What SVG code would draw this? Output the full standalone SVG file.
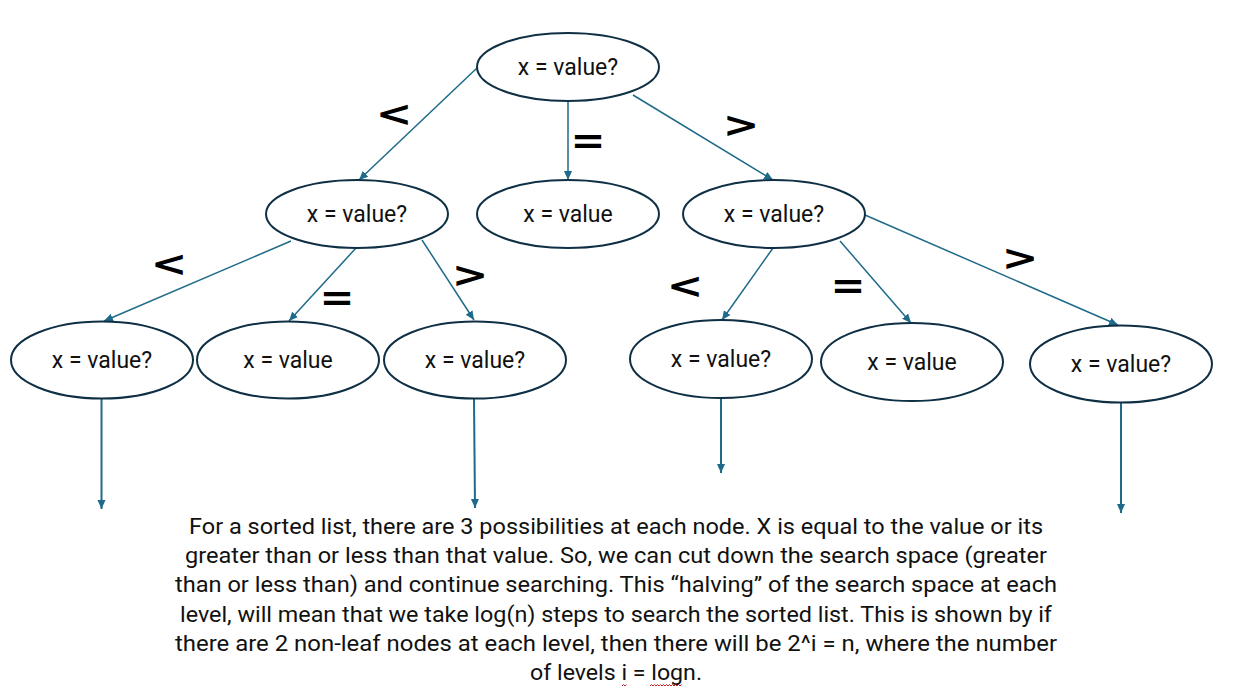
<svg xmlns="http://www.w3.org/2000/svg" width="1253" height="697" viewBox="0 0 1253 697">
<style>
.node ellipse{fill:#ffffff;stroke:#0e2f44;stroke-width:2}
.node text{font-family:Roboto,"Liberation Sans",sans-serif;font-size:23px;fill:#111;text-anchor:middle}
.conn line{stroke:#1e6a8a;stroke-width:1.5;fill:none}
.conn line.down{stroke-width:2}
.lbl{font-family:"DejaVu Sans",sans-serif;font-size:38px;fill:#000;text-anchor:middle;font-weight:bold}
.body{font-family:Roboto,"Liberation Sans",sans-serif;font-size:22px;fill:#111;text-anchor:middle}
.squig{stroke:#d02020;stroke-width:1;fill:none}
</style>
<defs>
<marker id="ah" markerUnits="userSpaceOnUse" markerWidth="10" markerHeight="10" viewBox="0 0 10 10" refX="9" refY="5" orient="auto">
<path d="M0,1 L9,5 L0,9 z" fill="#1e6a8a"/>
</marker>
</defs>
<rect width="1253" height="697" fill="#ffffff"/>
<g id="connectors" class="conn">
<line x1="477" y1="68" x2="359" y2="180" marker-end="url(#ah)"/>
<line x1="568" y1="101" x2="568" y2="180" marker-end="url(#ah)"/>
<line x1="633" y1="95" x2="773" y2="180" marker-end="url(#ah)"/>
<line x1="291" y1="241" x2="104" y2="321" marker-end="url(#ah)"/>
<line x1="356" y1="248" x2="289" y2="321" marker-end="url(#ah)"/>
<line x1="422" y1="240" x2="474" y2="320" marker-end="url(#ah)"/>
<line x1="773" y1="248" x2="722" y2="320" marker-end="url(#ah)"/>
<line x1="840" y1="241" x2="911" y2="323" marker-end="url(#ah)"/>
<line x1="865" y1="215" x2="1118" y2="325" marker-end="url(#ah)"/>
<line class="down" x1="101.5" y1="398" x2="101.5" y2="509" marker-end="url(#ah)"/>
<line class="down" x1="474" y1="399" x2="475" y2="508" marker-end="url(#ah)"/>
<line class="down" x1="721" y1="398" x2="721" y2="473" marker-end="url(#ah)"/>
<line class="down" x1="1121" y1="402" x2="1121" y2="513" marker-end="url(#ah)"/>
</g>
<g id="edge-labels">
<text class="lbl" transform="translate(394,126) scale(1.15,0.92)">&lt;</text>
<text class="lbl" transform="translate(588,153) scale(1.1,1)">=</text>
<text class="lbl" transform="translate(741,137) scale(1.15,0.92)">&gt;</text>
<text class="lbl" transform="translate(169,276) scale(1.15,0.92)">&lt;</text>
<text class="lbl" transform="translate(337,310) scale(1.1,1)">=</text>
<text class="lbl" transform="translate(470,287) scale(1.15,0.92)">&gt;</text>
<text class="lbl" transform="translate(685,298) scale(1.15,0.92)">&lt;</text>
<text class="lbl" transform="translate(848,298) scale(1.1,1)">=</text>
<text class="lbl" transform="translate(1020,270) scale(1.15,0.92)">&gt;</text>
</g>
<g id="n0" class="node"><ellipse cx="568" cy="67" rx="91" ry="34"/><text x="568" y="75">x = value?</text></g>
<g id="n1" class="node"><ellipse cx="357" cy="214" rx="91" ry="34"/><text x="357" y="222">x = value?</text></g>
<g id="n2" class="node"><ellipse cx="568" cy="214" rx="91" ry="34"/><text x="568" y="222">x = value</text></g>
<g id="n3" class="node"><ellipse cx="774" cy="214" rx="91" ry="34"/><text x="774" y="222">x = value?</text></g>
<g id="n4" class="node"><ellipse cx="102" cy="360" rx="91" ry="38.5"/><text x="102" y="368">x = value?</text></g>
<g id="n5" class="node"><ellipse cx="288" cy="360" rx="91" ry="38.5"/><text x="288" y="368">x = value</text></g>
<g id="n6" class="node"><ellipse cx="475" cy="360" rx="91" ry="38.5"/><text x="475" y="368">x = value?</text></g>
<g id="n7" class="node"><ellipse cx="721" cy="359" rx="91" ry="39"/><text x="721" y="367">x = value?</text></g>
<g id="n8" class="node"><ellipse cx="912" cy="362" rx="91" ry="39"/><text x="912" y="370">x = value</text></g>
<g id="n9" class="node"><ellipse cx="1121" cy="364" rx="91" ry="38.5"/><text x="1121" y="372">x = value?</text></g>
<g id="caption">
<text class="body" x="616" y="534" textLength="854" lengthAdjust="spacingAndGlyphs">For a sorted list, there are 3 possibilities at each node. X is equal to the value or its</text>
<text class="body" x="616" y="563" textLength="862" lengthAdjust="spacingAndGlyphs">greater than or less than that value. So, we can cut down the search space (greater</text>
<text class="body" x="616" y="592" textLength="882" lengthAdjust="spacingAndGlyphs">than or less than) and continue searching. This “halving” of the search space at each</text>
<text class="body" x="616" y="622" textLength="872" lengthAdjust="spacingAndGlyphs">level, will mean that we take log(n) steps to search the sorted list. This is shown by if</text>
<text class="body" x="616" y="651" textLength="882" lengthAdjust="spacingAndGlyphs">there are 2 non-leaf nodes at each level, then there will be 2^i = n, where the number</text>
<text class="body" x="616" y="680" textLength="172" lengthAdjust="spacingAndGlyphs">of levels i = logn.</text>
<path class="squig" d="M622,686 l1.5,-1.5 l1.5,1.5 l1.5,-1.5"/>
<path class="squig" d="M650,686 l1.5,-1.5 l1.5,1.5 l1.5,-1.5 l1.5,1.5 l1.5,-1.5 l1.5,1.5 l1.5,-1.5 l1.5,1.5 l1.5,-1.5 l1.5,1.5 l1.5,-1.5 l1.5,1.5 l1.5,-1.5 l1.5,1.5 l1.5,-1.5 l1.5,1.5 l1.5,-1.5 l1.5,1.5 l1.5,-1.5 l1.5,1.5 l1.5,-1.5"/>
</g>
</svg>
